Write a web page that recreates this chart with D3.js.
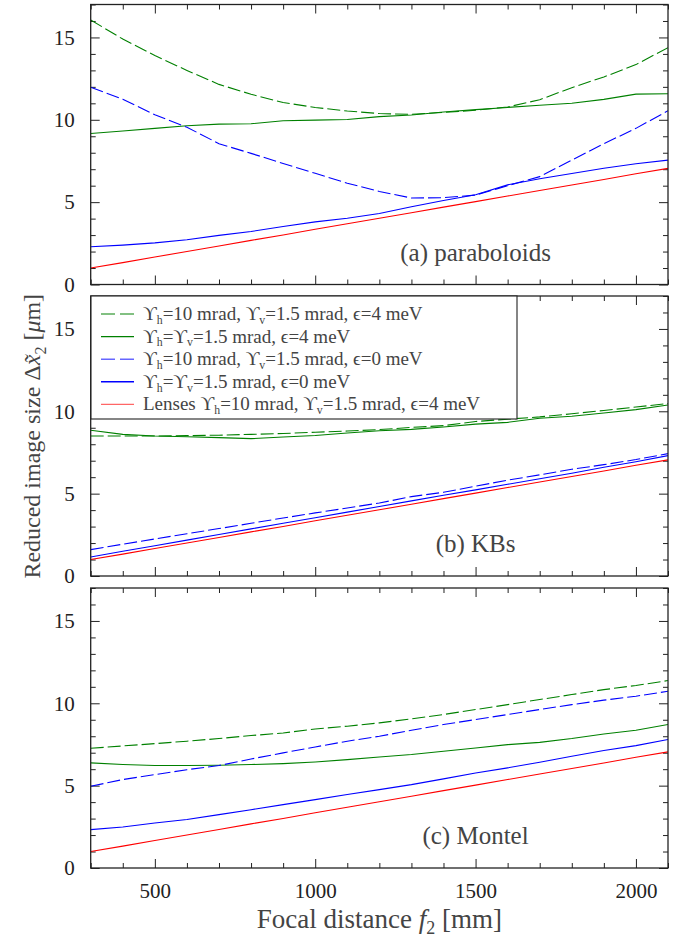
<!DOCTYPE html>
<html>
<head>
<meta charset="utf-8">
<script src="https://cdn.jsdelivr.net/npm/d3@7"></script>
<style>
  body { margin: 0; background: #fff; }
  text { font-family: 'Liberation Serif', 'DejaVu Serif', serif; }
</style>
</head>
<body>
<div id="chart"></div>
<script>
// focal distance f2 [mm]
const focal = [300, 400, 500, 600, 700, 800, 900, 1000, 1100, 1200, 1300, 1400, 1500, 1600, 1700, 1800, 1900, 2000, 2100]

// lenses, same curve in every panel
const lenses = [1.0, 1.33, 1.67, 2.0, 2.34, 2.68, 3.01, 3.35, 3.69, 4.02, 4.36, 4.7, 5.03, 5.37, 5.71, 6.04, 6.38, 6.72, 7.05]

// (a) paraboloids
const paraGreenDash = [16.06, 14.9, 13.9, 13.0, 12.15, 11.55, 11.05, 10.75, 10.53, 10.38, 10.33, 10.45, 10.58, 10.78, 11.22, 11.95, 12.6, 13.35, 14.38]
const paraGreen = [9.17, 9.32, 9.48, 9.64, 9.74, 9.76, 9.94, 9.98, 10.02, 10.19, 10.29, 10.47, 10.62, 10.75, 10.88, 11.0, 11.24, 11.56, 11.58]
const paraBlueDash = [11.97, 11.25, 10.3, 9.55, 8.55, 7.96, 7.35, 6.75, 6.15, 5.65, 5.25, 5.27, 5.43, 6.0, 6.55, 7.55, 8.55, 9.48, 10.55]
const paraBlue = [2.29, 2.39, 2.53, 2.72, 2.98, 3.22, 3.52, 3.8, 4.02, 4.31, 4.72, 5.1, 5.45, 6.05, 6.42, 6.74, 7.06, 7.33, 7.55]

// (b) KBs
const kbGreenDash = [8.5, 8.5, 8.5, 8.52, 8.55, 8.6, 8.65, 8.73, 8.8, 8.89, 9.02, 9.13, 9.38, 9.52, 9.66, 9.85, 10.05, 10.26, 10.47]
const kbGreen = [8.85, 8.6, 8.5, 8.45, 8.4, 8.34, 8.44, 8.53, 8.68, 8.82, 8.9, 9.05, 9.22, 9.33, 9.58, 9.7, 9.9, 10.1, 10.38]
const kbBlueDash = [1.6, 1.93, 2.25, 2.57, 2.88, 3.2, 3.52, 3.83, 4.13, 4.43, 4.82, 5.08, 5.45, 5.82, 6.14, 6.48, 6.76, 7.07, 7.43]
const kbBlue = [1.15, 1.5, 1.84, 2.18, 2.52, 2.86, 3.2, 3.54, 3.88, 4.22, 4.56, 4.9, 5.23, 5.57, 5.9, 6.24, 6.6, 6.94, 7.31]

// (c) Montel
const montelGreenDash = [7.27, 7.41, 7.55, 7.7, 7.86, 8.04, 8.2, 8.44, 8.61, 8.81, 9.05, 9.32, 9.62, 9.92, 10.23, 10.53, 10.83, 11.08, 11.38]
const montelGreen = [6.38, 6.28, 6.22, 6.22, 6.24, 6.28, 6.34, 6.44, 6.58, 6.74, 6.89, 7.09, 7.29, 7.49, 7.63, 7.86, 8.14, 8.36, 8.71]
const montelBlueDash = [4.96, 5.37, 5.67, 5.97, 6.22, 6.62, 6.99, 7.35, 7.7, 8.0, 8.36, 8.71, 9.01, 9.32, 9.62, 9.92, 10.19, 10.43, 10.73]
const montelBlue = [2.33, 2.49, 2.73, 2.94, 3.24, 3.54, 3.85, 4.15, 4.46, 4.76, 5.06, 5.41, 5.77, 6.08, 6.42, 6.78, 7.13, 7.43, 7.8]

const panelLabels = ['(a) paraboloids', '(b) KBs', '(c) Montel']
const panelSeries = [
  [paraGreenDash, paraGreen, paraBlueDash, paraBlue, lenses],
  [kbGreenDash, kbGreen, kbBlueDash, kbBlue, lenses],
  [montelGreenDash, montelGreen, montelBlueDash, montelBlue, lenses]
]

const legendLabels = [
  'ϒ_h=10 mrad, ϒ_v=1.5 mrad, ϵ=4 meV',
  'ϒ_h=ϒ_v=1.5 mrad, ϵ=4 meV',
  'ϒ_h=10 mrad, ϒ_v=1.5 mrad, ϵ=0 meV',
  'ϒ_h=ϒ_v=1.5 mrad, ϵ=0 meV',
  'Lenses ϒ_h=10 mrad, ϒ_v=1.5 mrad, ϵ=4 meV'
]

const xMajor = [500, 1000, 1500, 2000]
const yMajor = [0, 5, 10, 15]

// styling per series index
const colors = ['#008000', '#008000', '#0000ff', '#0000ff', '#ff0000']
const dashes = ['13,4', null, '13,4', null, null]
const legendOpacity = [0.65, 1, 0.6, 1, 0.6]

const width = 686
const height = 941
const left = 90.7
const right = 668
const panelTops = [4.5, 296, 588]
const panelH = 280

const svg = d3
  .select('#chart')
  .append('svg')
  .attr('width', width)
  .attr('height', height)

const x = d3.scaleLinear().domain([300, 2100]).range([left, right])

// writes "a_b" strings with b as subscript
function richText(textSel, str, size) {
  const parts = str.split(/(_[a-z0-9])/)
  let shifted = false
  parts.forEach(p => {
    if (!p) return
    if (p[0] === '_') {
      textSel.append('tspan').attr('dy', size * 0.2).attr('font-size', size * 0.62).text(p.slice(1))
      shifted = true
    } else {
      const t = textSel.append('tspan').text(p)
      if (shifted) {
        t.attr('dy', -size * 0.2)
        shifted = false
      }
    }
  })
}

panelTops.forEach((top, pi) => {
  const y = d3.scaleLinear().domain([0, 17]).range([top + panelH, top])
  const g = svg.append('g')

  svg
    .append('clipPath')
    .attr('id', 'clip' + pi)
    .append('rect')
    .attr('x', left)
    .attr('y', top)
    .attr('width', right - left)
    .attr('height', panelH)

  // ticks on all four sides, pointing inwards
  const minorX = d3.range(300, 2101, 100).filter(d => d % 500 !== 0)
  const minorY = d3.range(0, 18).filter(d => d % 5 !== 0)

  g.append('g')
    .attr('class', 'axis')
    .attr('transform', 'translate(0,' + (top + panelH) + ')')
    .call(d3.axisBottom(x).tickValues(xMajor).tickSize(-9).tickSizeOuter(0).tickPadding(15)
      .tickFormat(pi === 2 ? d3.format('d') : ''))
  g.append('g')
    .attr('transform', 'translate(0,' + (top + panelH) + ')')
    .call(d3.axisBottom(x).tickValues(minorX).tickSize(-5).tickSizeOuter(0).tickFormat(''))
  g.append('g')
    .attr('transform', 'translate(0,' + top + ')')
    .call(d3.axisTop(x).tickValues(xMajor).tickSize(-9).tickSizeOuter(0).tickFormat(''))
  g.append('g')
    .attr('transform', 'translate(0,' + top + ')')
    .call(d3.axisTop(x).tickValues(minorX).tickSize(-5).tickSizeOuter(0).tickFormat(''))

  g.append('g')
    .attr('class', 'axis')
    .attr('transform', 'translate(' + left + ',0)')
    .call(d3.axisLeft(y).tickValues(yMajor).tickSize(-9).tickSizeOuter(0).tickPadding(16))
  g.append('g')
    .attr('transform', 'translate(' + left + ',0)')
    .call(d3.axisLeft(y).tickValues(minorY).tickSize(-5).tickSizeOuter(0).tickFormat(''))
  g.append('g')
    .attr('transform', 'translate(' + right + ',0)')
    .call(d3.axisRight(y).tickValues(yMajor).tickSize(-9).tickSizeOuter(0).tickFormat(''))
  g.append('g')
    .attr('transform', 'translate(' + right + ',0)')
    .call(d3.axisRight(y).tickValues(minorY).tickSize(-5).tickSizeOuter(0).tickFormat(''))

  g.selectAll('.domain').remove()
  g.selectAll('.tick line').attr('stroke', '#222').attr('stroke-width', 1)
  g.selectAll('.axis text')
    .attr('font-size', 21)
    .attr('fill', '#222')
    .style('font-family', "'Liberation Serif', serif")

  // data lines
  const line = d3
    .line()
    .x((d, i) => x(focal[i]))
    .y(d => y(d))

  const lines = g.append('g').attr('clip-path', 'url(#clip' + pi + ')')
  panelSeries[pi].forEach((vals, si) => {
    lines
      .append('path')
      .datum(vals)
      .attr('d', line)
      .attr('fill', 'none')
      .attr('stroke', colors[si])
      .attr('stroke-width', 1.1)
      .attr('stroke-dasharray', dashes[si])
  })

  g.append('text')
    .attr('x', x(1500))
    .attr('y', y(1.45))
    .attr('text-anchor', 'middle')
    .attr('font-size', 25)
    .attr('fill', '#444')
    .text(panelLabels[pi])

  g.append('rect')
    .attr('x', left)
    .attr('y', top)
    .attr('width', right - left)
    .attr('height', panelH)
    .attr('fill', 'none')
    .attr('stroke', '#222')
    .attr('stroke-width', 1.3)
})

// legend in top-left of panel (b)
const legend = svg.append('g')
legend
  .append('rect')
  .attr('x', 91)
  .attr('y', 296)
  .attr('width', 426)
  .attr('height', 123)
  .attr('fill', '#fff')
  .attr('stroke', '#222')
  .attr('stroke-width', 1.1)

legendLabels.forEach((label, i) => {
  const ly = 314 + i * 22.6
  legend
    .append('line')
    .attr('x1', 101)
    .attr('x2', 134)
    .attr('y1', ly)
    .attr('y2', ly)
    .attr('stroke', colors[i])
    .attr('stroke-opacity', legendOpacity[i])
    .attr('stroke-width', 1.4)
    .attr('stroke-dasharray', dashes[i] ? '14,5' : null)
  const t = legend
    .append('text')
    .attr('x', 143)
    .attr('y', ly + 6)
    .attr('font-size', 19)
    .attr('fill', '#444')
  richText(t, label, 19)
})

// axis titles
const xt = svg
  .append('text')
  .attr('x', (left + right) / 2)
  .attr('y', 928)
  .attr('text-anchor', 'middle')
  .attr('font-size', 27)
  .attr('fill', '#444')
xt.append('tspan').text('Focal distance ')
xt.append('tspan').attr('font-style', 'italic').text('f')
xt.append('tspan').attr('dy', 6).attr('font-size', 18).text('2')
xt.append('tspan').attr('dy', -6).text(' [mm]')

const yt = svg
  .append('text')
  .attr('transform', 'translate(40,' + (panelTops[0] + panelTops[2] + panelH) / 2 + ') rotate(-90)')
  .attr('text-anchor', 'middle')
  .attr('font-size', 24)
  .attr('fill', '#444')
yt.append('tspan').text('Reduced image size Δ')
yt.append('tspan').attr('font-style', 'italic').text('x\u0303')
yt.append('tspan').attr('dy', 6).attr('font-size', 16).text('2')
yt.append('tspan').attr('dy', -6).text(' [')
yt.append('tspan').attr('font-style', 'italic').text('μ')
yt.append('tspan').text('m]')
</script>
</body>
</html>
